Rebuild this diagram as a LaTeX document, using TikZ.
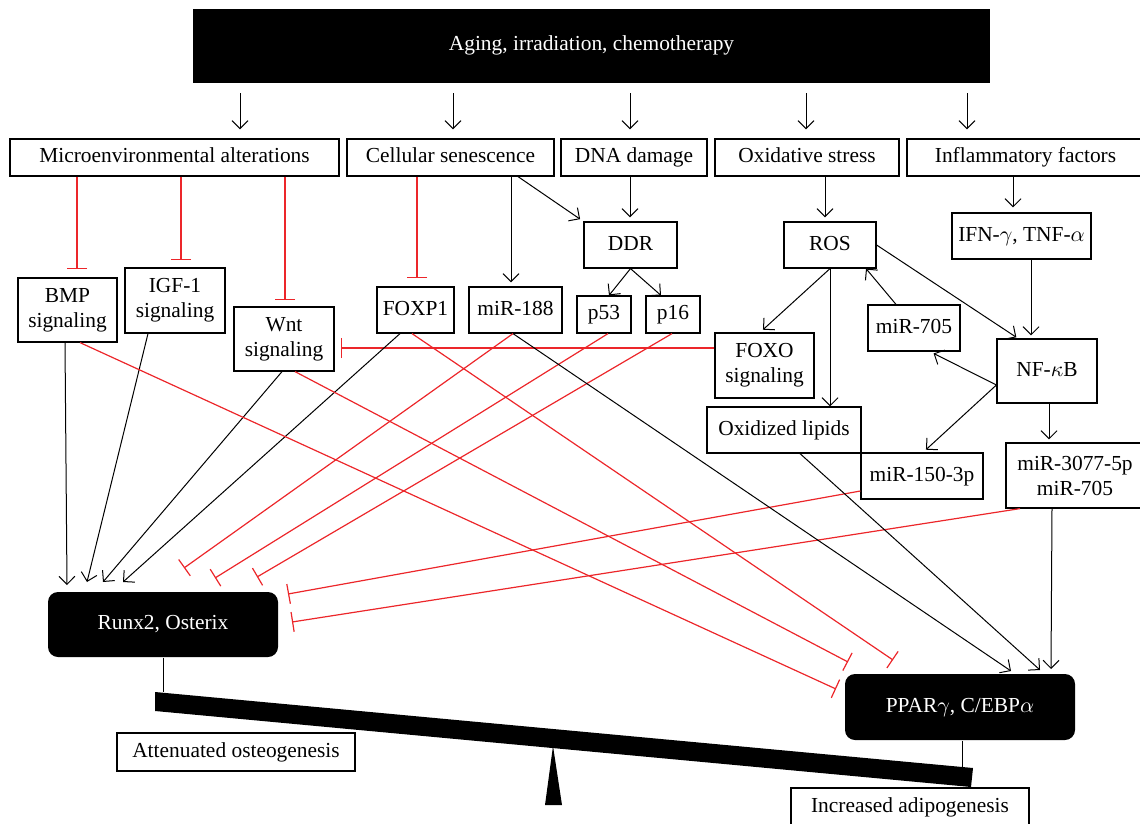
\documentclass[tikz,border=0pt]{standalone}
\usepackage{fontspec}
\setmainfont{Liberation Serif}
\usetikzlibrary{arrows.meta}
\definecolor{inhred}{RGB}{236,38,42}

\tikzset{
  box/.style={draw, rectangle, inner sep=0pt, align=center, line width=0.6pt},
  oneline/.style={text height=7.3pt, text depth=2.3pt},
  dark/.style={fill=black, text=white, inner sep=0pt, align=center},
  sz/.style 2 args={minimum width=#1*0.5pt, minimum height=#2*0.5pt},
  inh/.style={draw=inhred, line width=0.6pt, -{Bar[width=10pt]}},
}

\begin{document}
\begin{tikzpicture}[x=0.5pt, y=-0.5pt, line width=0.5pt,
    >={Straight Barb[length=4pt,width=8pt]},
    font=\fontsize{10.7}{12.5}\selectfont]

    \useasboundingbox (0,0) rectangle (1140,824);

    % Define the cause at the top
    \node[dark, oneline, sz={797}{74}] (top) at (591.5,46) {Aging, irradiation, chemotherapy};

    % Define nodes in the first row
    \node[box, oneline, sz={329}{37}] (micro) at (174.5,157.5) {Microenvironmental alterations};
    \node[box, oneline, sz={207}{37}] (cellsen) at (450.5,157.5) {Cellular senescence};
    \node[box, oneline, sz={146}{37}] (dna) at (634,157.5) {DNA damage};
    \node[box, oneline, sz={184}{37}] (oxid) at (807,157.5) {Oxidative stress};
    \node[box, oneline, sz={237}{37}] (infl) at (1025.5,157.5) {Inflammatory factors};

    % Define nodes in the middle
    \node[box, sz={99}{64}] (bmp) at (67.5,310) {BMP\\signaling};
    \node[box, sz={100}{65}] (igf) at (175,300.5) {IGF-1\\signaling};
    \node[box, sz={100}{64}] (wnt) at (284,339) {Wnt\\signaling};
    \node[box, oneline, sz={77}{46}] (foxp1) at (415.5,310) {FOXP1};
    \node[box, oneline, sz={93}{46}] (mir188) at (515.5,310) {miR-188};
    \node[box, oneline, sz={93}{46}] (ddr) at (630.5,245) {DDR};
    \node[box, oneline, sz={54}{37}] (p53) at (604,314.5) {p53};
    \node[box, oneline, sz={54}{37}] (p16) at (673,314.5) {p16};
    \node[box, oneline, sz={92}{46}] (ros) at (830,245) {ROS};
    \node[box, oneline, sz={139}{46}] (ifn) at (1021.5,236) {IFN-$\gamma$, TNF-$\alpha$};
    \node[box, oneline, sz={100}{64}] (nfkb) at (1047,371) {NF-$\kappa$B};
    \node[box, oneline, sz={92}{46}] (mir705) at (914,328) {miR-705};
    \node[box, sz={99}{65}] (foxo) at (764.5,365.5) {FOXO\\signaling};
    \node[box, oneline, sz={154}{46}] (oxlip) at (784,430) {Oxidized lipids};
    \node[box, oneline, sz={122}{46}] (mir150) at (922,476) {miR-150-3p};
    \node[box, sz={138}{65}] (mir3077) at (1075,475.5) {miR-3077-5p\\miR-705};

    % Define the two targets and the results
    \node[dark, oneline, rounded corners=5pt, sz={230}{65}] (runx) at (163,624.5) {Runx2, Osterix};
    \node[dark, oneline, rounded corners=5pt, sz={230}{66}] (ppar) at (960,707) {PPAR$\gamma$, C/EBP$\alpha$};
    \node[box, oneline, sz={238}{38}] (atten) at (236,752) {Attenuated osteogenesis};
    \node[box, oneline, sz={238}{38}] (incr) at (910,807) {Increased adipogenesis};

    % Draw arrows from the cause to the first row
    \draw[->, shorten <=5pt, shorten >=4.5pt] (top.south -| 240,0) -- (micro.north -| 240,0);
    \draw[->, shorten <=5pt, shorten >=4.5pt] (top.south -| 453,0) -- (cellsen.north -| 453,0);
    \draw[->, shorten <=5pt, shorten >=4.5pt] (top.south -| 630,0) -- (dna.north -| 630,0);
    \draw[->, shorten <=5pt, shorten >=4.5pt] (top.south -| 806,0) -- (oxid.north -| 806,0);
    \draw[->, shorten <=5pt, shorten >=4.5pt] (top.south -| 967,0) -- (infl.north -| 967,0);

    % Microenvironmental alterations and cellular senescence
    \draw[inh, shorten >=4pt] (micro.south -| 77,0) -- (bmp.north -| 77,0);
    \draw[inh, shorten >=3.5pt] (micro.south -| 181,0) -- (igf.north -| 181,0);
    \draw[inh, shorten >=3pt] (micro.south -| 285,0) -- (wnt.north -| 285,0);
    \draw[inh, shorten >=4pt] (cellsen.south -| 417,0) -- (foxp1.north -| 417,0);
    \draw[->, shorten >=2pt] (cellsen.south -| 511,0) -- (mir188.north -| 511,0);
    \draw[->, shorten >=2pt] (cellsen.south -| 518,0) -- (ddr.north west);

    % DNA damage
    \draw[->, shorten >=2pt] (dna.south -| 630,0) -- (ddr.north -| 630,0);
    \draw[->] (ddr.south) -- (p53.north -| 609,0);
    \draw[->] (ddr.south) -- (p16.north -| 661,0);

    % Oxidative stress and inflammation
    \draw[->, shorten >=2pt] (oxid.south -| 825,0) -- (ros.north -| 825,0);
    \draw[->, shorten >=1pt] (ros.east) -- (nfkb.north -| 1018,0);
    \draw[->, shorten >=2pt] (ros.south) -- (foxo.north -| 760,0);
    \draw[->] (ros.south) -- (oxlip.north -| 830,0);
    \draw[->] (mir705.north -| 896,0) -- (ros.south -| 866,0);
    \draw[->, shorten >=2.5pt] (infl.south -| 1013,0) -- (ifn.north -| 1013,0);
    \draw[->, shorten >=1.5pt] (ifn.south -| 1031,0) -- (nfkb.north -| 1031,0);
    \coordinate (nfw) at (nfkb.west |- 0,385);
    \draw[->, shorten >=2pt] (nfw) -- (mir705.south -| 930,0);
    \draw[->, shorten >=2pt] (nfw) -- (mir150.north -| 923,0);
    \draw[->, shorten >=1.5pt] (nfkb.south -| 1049,0) -- (mir3077.north -| 1049,0);
    \draw[inh, shorten >=3pt] (foxo.west |- 0,348) -- (wnt.east |- 0,348);

    % Ends next to Runx2 and PPAR
    \coordinate (rx1) at (67,585);
    \coordinate (rx2) at (87,582);
    \coordinate (rx3) at (103,582);
    \coordinate (rx4) at (123,582);
    \coordinate (rx5) at (184,568);
    \coordinate (rx6) at (215,578);
    \coordinate (rx7) at (257,577);
    \coordinate (rx8) at (288,594);
    \coordinate (rx9) at (292,622);
    \coordinate (pp1) at (836,689);
    \coordinate (pp2) at (848,662);
    \coordinate (pp3) at (893,660);
    \coordinate (pp4) at (1011,671);
    \coordinate (pp5) at (1040,670);
    \coordinate (pp6) at (1051,669);

    % Draw the links to Runx2
    \draw[->] (bmp.south -| 65,0) -- (rx1);
    \draw[->] (igf.south -| 148,0) -- (rx2);
    \draw[->] (wnt.south -| 282,0) -- (rx3);
    \draw[->] (foxp1.south -| 400,0) -- (rx4);
    \draw[inh] (mir188.south -| 513,0) -- (rx5);
    \draw[inh] (p53.south -| 608,0) -- (rx6);
    \draw[inh] (p16.south -| 672,0) -- (rx7);
    \draw[inh] (mir150.west |- 0,491) -- (rx8);
    \draw[inh] (mir3077.south -| 1020,0) -- (rx9);

    % Draw the links to PPAR
    \draw[inh] (bmp.south -| 80,0) -- (pp1);
    \draw[inh] (wnt.south -| 295,0) -- (pp2);
    \draw[inh] (foxp1.south -| 412,0) -- (pp3);
    \draw[->] (mir188.south -| 513,0) -- (pp4);
    \draw[->] (oxlip.south -| 800,0) -- (pp5);
    \draw[->] (mir3077.south -| 1052,0) -- (pp6);

    % The balance
    \fill (155,692) -- (973,768) -- (971,787) -- (155,711) -- cycle;
    \draw (runx.south) -- (runx.south |- 0,692);
    \draw (ppar.south -| 962,0) -- (962,767);
    \fill (553,746) -- (562,805) -- (545,805) -- cycle;

\end{tikzpicture}
\end{document}
